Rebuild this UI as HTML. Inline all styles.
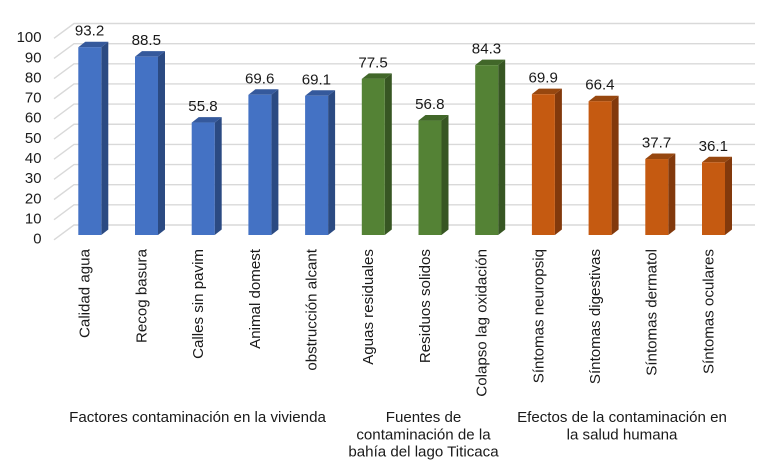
<!DOCTYPE html>
<html lang="es">
<head>
<meta charset="utf-8">
<title>Factores de contaminación</title>
<style>
html,body{margin:0;padding:0;background:#fff;width:778px;height:472px;overflow:hidden}
svg{display:block}
text{font-family:"Liberation Sans",Arial,sans-serif;font-size:15.1px;fill:#1a1a1a}
#yticks text{font-size:14.9px}
</style>
</head>
<body>
<svg id="chart" width="778" height="472" viewBox="0 0 778 472" xmlns="http://www.w3.org/2000/svg">
  <g id="grid"></g>
  <g id="yticks"></g>
  <g id="bars"></g>
  <g id="xlabels"></g>
  <g>
    <text x="197.5" y="422" text-anchor="middle">Factores contaminación en la vivienda</text>
    <text text-anchor="middle"><tspan x="423.5" y="422">Fuentes de</tspan><tspan x="423.5" y="439.3">contaminación de la</tspan><tspan x="423.5" y="456.6">bahía del lago Titicaca</tspan></text>
    <text text-anchor="middle"><tspan x="622" y="422">Efectos de la contaminación en</tspan><tspan x="622" y="439.3">la salud humana</tspan></text>
  </g>
</svg>
<script>
const categories = ["Calidad agua","Recog basura","Calles sin pavim","Animal domest","obstrucción alcant","Aguas residuales","Residuos solidos","Colapso lag oxidación","Síntomas neuropsiq","Síntomas digestivas","Síntomas dermatol","Síntomas oculares"];
const values = [93.2,88.5,55.8,69.6,69.1,77.5,56.8,84.3,69.9,66.4,37.7,36.1];
const groups = [0,0,0,0,0,1,1,1,2,2,2,2];
const yTicks = [0,10,20,30,40,50,60,70,80,90,100];

const palette = [
  {front:"#4472C4",side:"#2B4A82",top:"#35599C"},
  {front:"#548235",side:"#375623",top:"#416729"},
  {front:"#C55A11",side:"#82390C",top:"#97470F"}
];
const NS = "http://www.w3.org/2000/svg";
const unit = 2.015;
const xBar = i => 78.3 + 56.7 * i;
const barW = 23;
const depthX = 7;
const depthY = 5.5;
const yBar = v => 235 - v * unit;
const yBack = v => 225 - v * unit;
const yFront = v => 239.8 - v * unit;

function make(tag, parent, attrs, txt) {
  const el = document.createElementNS(NS, tag);
  for (const k in attrs) el.setAttribute(k, attrs[k]);
  if (txt !== undefined) el.textContent = txt;
  parent.appendChild(el);
  return el;
}
const gridG = document.getElementById("grid");
const tickG = document.getElementById("yticks");
const barG = document.getElementById("bars");
const xG = document.getElementById("xlabels");

yTicks.forEach(t => {
  const wall = make("polyline", gridG, {points:`54,${yFront(t)} 74,${yBack(t)} 755,${yBack(t)}`, fill:"none", stroke:"#D9D9D9", "stroke-width":1.4});
  
  
  const lab = make("text", tickG, {x:41.5, y:yFront(t)+3.8, "text-anchor":"end"}, t);
  
  
});

values.forEach((v, i) => {
  const c = palette[groups[i]];
  const x = xBar(i), y = yBar(v), b = yBar(0), r = x + barW;
  const g = make("g", barG, {});
  
  
  make("polygon", g, {points:`${r},${y} ${r+depthX},${y-depthY} ${r+depthX},${b-depthY} ${r},${b}`, fill:c.side});
  make("polygon", g, {points:`${x},${y} ${x+depthX},${y-depthY} ${r+depthX},${y-depthY} ${r},${y}`, fill:c.top});
  make("rect", g, {x:x, y:y, width:barW, height:b-y, fill:c.front});
  const val = make("text", barG, {x:x+11.3, y:y-11.5, "text-anchor":"middle"}, v.toFixed(1));
  
  
  const cx = x + 11.4;
  const lab = make("text", xG, {x:cx, y:249, "text-anchor":"end", transform:`rotate(-90 ${cx} 249)`}, categories[i]);
  
  
});
</script>
</body>
</html>
